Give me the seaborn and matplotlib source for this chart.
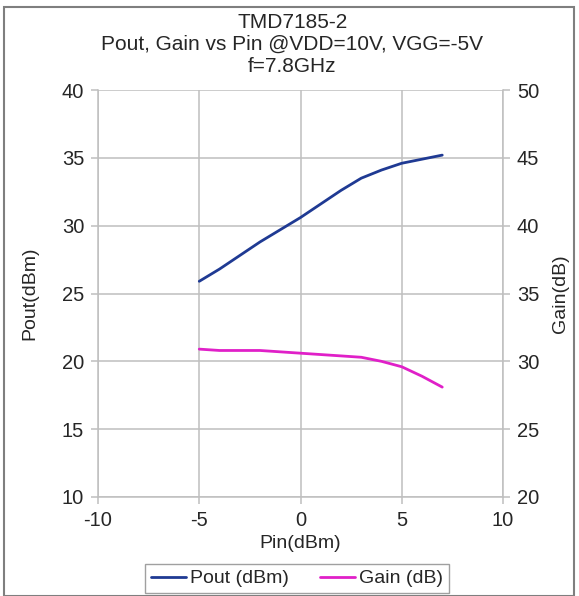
import matplotlib
matplotlib.use("Agg")
import matplotlib.pyplot as plt
import seaborn as sns
import pandas as pd
from matplotlib.patches import Rectangle

pin = [-5, -4, -3, -2, -1, 0, 1, 2, 3, 4, 5, 6, 7]
pout = [25.9, 26.8, 27.8, 28.8, 29.7, 30.6, 31.6, 32.6, 33.5, 34.1, 34.6, 34.9, 35.2]
gain = [30.9, 30.8, 30.8, 30.8, 30.7, 30.6, 30.5, 30.4, 30.3, 30.0, 29.6, 28.9, 28.1]

title = "TMD7185-2\nPout, Gain vs Pin @VDD=10V, VGG=-5V\nf=7.8GHz"
x_ticks = [-10, -5, 0, 5, 10]
left_ticks = [10, 15, 20, 25, 30, 35, 40]
right_ticks = [20, 25, 30, 35, 40, 45, 50]

df = pd.DataFrame({"Pin": pin, "Pout": pout, "Gain": gain})

sns.set_style("white")
plt.rcParams["font.family"] = ["Liberation Sans", "DejaVu Sans"]
plt.rcParams["axes.unicode_minus"] = False

blue = "#1F3A93"
magenta = "#E020C8"
grid_c = "#BFBFBF"
text_c = "#262626"

fig = plt.figure(figsize=(5.79, 5.96), dpi=100)
ax = fig.add_axes([98/579, 1-497/596, (503-98)/579, (497-90)/596])
ax2 = ax.twinx()

sns.lineplot(data=df, x="Pin", y="Pout", ax=ax, color=blue, linewidth=2.0, label="Pout (dBm)", legend=False)
sns.lineplot(data=df, x="Pin", y="Gain", ax=ax2, color=magenta, linewidth=2.0, label="Gain (dB)", legend=False)

ax.set_xlim(-10, 10)
ax.set_ylim(10, 40)
ax2.set_ylim(20, 50)
ax.set_xticks(x_ticks)
ax.set_yticks(left_ticks)
ax2.set_yticks(right_ticks)

ax.grid(True, color=grid_c, linewidth=1.1)
ax.set_axisbelow(True)
for a in (ax, ax2):
    for s in a.spines.values():
        s.set_visible(False)
ax.spines["left"].set_visible(True)
ax.spines["bottom"].set_visible(True)
ax2.spines["right"].set_visible(True)
for s in (ax.spines["left"], ax.spines["bottom"], ax2.spines["right"]):
    s.set_color(grid_c)
    s.set_linewidth(1.1)

ax.tick_params(axis="both", which="both", direction="out", length=5, width=1.1, color=grid_c,
               labelsize=14.5, labelcolor=text_c, left=True, bottom=True, pad=5)
ax2.tick_params(axis="y", direction="out", length=5, width=1.1, color=grid_c,
                labelsize=14.5, labelcolor=text_c, right=True, pad=5)

ax.set_xlabel("Pin(dBm)", fontsize=14, color=text_c, labelpad=4)
ax.set_ylabel("Pout(dBm)", fontsize=14, color=text_c, labelpad=17)
ax2.set_ylabel("Gain(dB)", fontsize=14, color=text_c, labelpad=9)

fig.text(0.505, 1-44/596, title, ha="center", va="center", fontsize=15, color=text_c, linespacing=1.2)

h1, l1 = ax.get_legend_handles_labels()
h2, l2 = ax2.get_legend_handles_labels()
leg = fig.legend(h1 + h2, l1 + l2, loc="center", bbox_to_anchor=(297/579, 1-578.5/596), ncol=2,
                 fontsize=14, frameon=True, fancybox=False, edgecolor="#888888",
                 handlelength=1.8, handletextpad=0.2, columnspacing=1.6, borderpad=0.3)
leg.get_frame().set_linewidth(1.0)
for t in leg.get_texts():
    t.set_color(text_c)

fig.patches.append(Rectangle((4/579, 0), 570/579, 1-7/596, transform=fig.transFigure,
                             fill=False, edgecolor="#7F7F7F", linewidth=1.5))

fig.savefig("out.png", dpi=100)
